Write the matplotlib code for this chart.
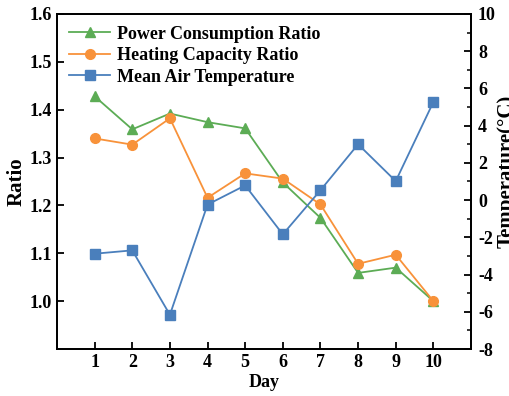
import matplotlib
matplotlib.use("Agg")
import matplotlib.pyplot as plt
from matplotlib.ticker import MultipleLocator

days = [1, 2, 3, 4, 5, 6, 7, 8, 9, 10]
power_ratio = [1.428, 1.359, 1.392, 1.374, 1.361, 1.248, 1.174, 1.059, 1.070, 1.000]
heating_ratio = [1.340, 1.327, 1.382, 1.216, 1.267, 1.256, 1.202, 1.078, 1.097, 1.000]
mean_temp = [-2.88, -2.70, -6.16, -0.24, 0.79, -1.84, 0.53, 3.00, 1.02, 5.27]

plt.rcParams['font.family'] = ['Liberation Serif', 'DejaVu Serif']
plt.rcParams['font.weight'] = 'bold'
plt.rcParams['font.size'] = 13
plt.rcParams['axes.unicode_minus'] = False

green = '#5cac55'
orange = '#f8923a'
blue = '#4a7fbc'

fig = plt.figure(figsize=(5.10, 3.96), dpi=100)
ax = fig.add_axes([57/510, 1-349/396, (471-57)/510, (349-14)/396])
ax2 = ax.twinx()

l1, = ax.plot(days, power_ratio, color=green, marker='^', markersize=7, lw=1.3, label='Power Consumption Ratio')
l2, = ax.plot(days, heating_ratio, color=orange, marker='o', markersize=7, lw=1.3, label='Heating Capacity Ratio')
l3, = ax2.plot(days, mean_temp, color=blue, marker='s', markersize=6.5, lw=1.3, label='Mean Air Temperature')

ax.set_xlim(0, 11)
ax.set_ylim(0.9, 1.6)
ax.set_yticks([1.0, 1.1, 1.2, 1.3, 1.4, 1.5, 1.6])
ax.set_xticks(days)
ax2.set_ylim(-8, 10)
ax2.set_yticks(range(-8, 11, 2))
ax2.yaxis.set_minor_locator(MultipleLocator(1))

for a in (ax, ax2):
    for s in a.spines.values():
        s.set_linewidth(1.3)
ax.tick_params(axis='both', direction='in', length=5, width=1.3, labelsize=13)
ax2.tick_params(axis='y', which='major', direction='in', length=5, width=1.3, labelsize=13, pad=5)
ax2.tick_params(axis='y', which='minor', direction='in', length=3, width=1.1)
for lab in ax.get_xticklabels() + ax.get_yticklabels() + ax2.get_yticklabels():
    lab.set_fontweight('bold')

ax.set_xlabel('Day', fontsize=13, fontweight='bold', labelpad=2)
ax.set_ylabel('Ratio', fontsize=15, fontweight='bold', labelpad=2)
ax2.set_ylabel('Temperature(°C)', fontsize=15, fontweight='bold', rotation=90)
ax2.yaxis.set_label_coords(1.062, 0.53)

ax.legend(handles=[l1, l2, l3], loc='upper left', frameon=False,
          handlelength=2.3, handletextpad=0.4, borderaxespad=0.25, labelspacing=0.25,
          prop={'weight': 'bold', 'size': 13})

fig.savefig('out.png', dpi=100)
